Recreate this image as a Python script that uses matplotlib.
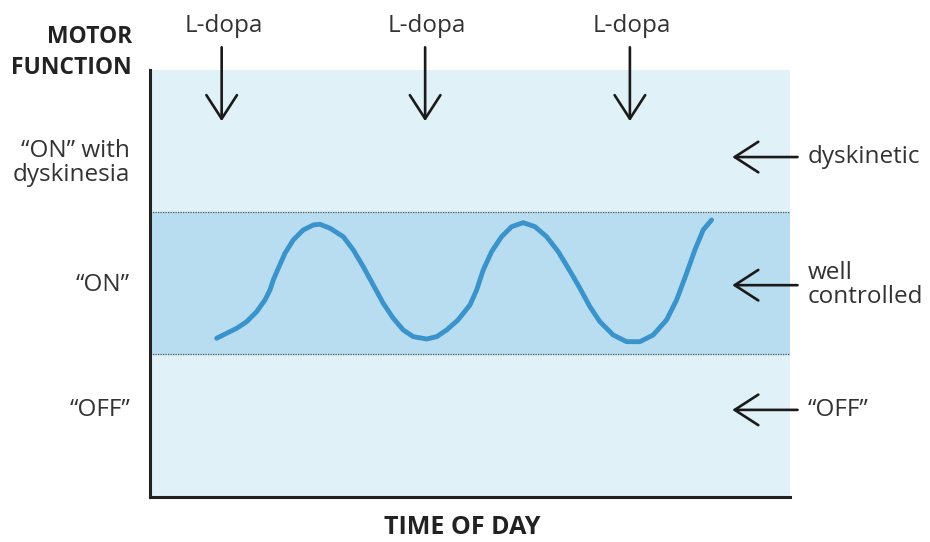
import matplotlib.pyplot as plt

# levodopa response curve (time 0-100, motor function 0-100)
time_pts = [10.42, 11.98, 13.55, 15.11, 16.67, 17.97, 18.75, 19.27, 20.05, 21.09,
            22.39, 23.95, 25.52, 26.56, 28.13, 30.20, 31.77, 33.33, 34.89, 36.45,
            38.02, 39.58, 41.14, 43.23, 44.80, 46.36, 48.13, 50.00, 51.05, 52.08,
            53.39, 54.95, 56.52, 58.33, 60.16, 61.98, 63.80, 65.63, 67.19, 68.75,
            70.31, 72.39, 74.48, 76.56, 78.64, 80.73, 82.30, 83.86, 85.16, 86.45,
            87.77]
motor_pts = [37.17, 38.34, 39.51, 41.05, 43.40, 46.14, 48.48, 50.82, 53.56, 57.07,
             60.19, 62.53, 63.70, 63.86, 62.93, 60.96, 57.85, 53.93, 49.65, 45.36,
             41.85, 39.11, 37.54, 37.00, 37.54, 39.11, 41.45, 44.96, 48.48, 53.16,
             57.45, 60.96, 63.30, 64.24, 63.30, 60.96, 57.45, 52.93, 48.88, 44.57,
             41.05, 37.94, 36.37, 36.37, 37.94, 41.45, 46.14, 52.39, 57.85, 62.53,
             64.87]

dose_times = [11.2, 43.0, 75.0]
dose_label = "L-dopa"

band_low = 33.5
band_high = 66.7

zone_y = [78.2, 49.6, 20.4]
zone_left = ["\u201cON\u201d with\ndyskinesia", "\u201cON\u201d", "\u201cOFF\u201d"]
zone_right = ["dyskinetic", "well\ncontrolled", "\u201cOFF\u201d"]
arrow_y = [79.6, 49.6, 20.4]

plt.rcParams['font.family'] = ['Open Sans', 'DejaVu Sans']

fig = plt.figure(figsize=(9.3, 5.42), dpi=100)
ax = fig.add_axes([0.1613, 0.083, 0.688, 0.788])
ax.set_xlim(0, 100)
ax.set_ylim(0, 100)

# background zones
ax.axhspan(0, 100, color='#e1f1f8', zorder=0)
ax.axhspan(band_low, band_high, color='#b9ddf0', zorder=1)
for yy in [band_low, band_high]:
    ax.axhline(yy, color='#555555', linestyle=(0, (1, 1)), linewidth=0.9, zorder=2)

ax.plot(time_pts, motor_pts, color='#3b93cb', linewidth=3.5,
        solid_capstyle='round', solid_joinstyle='round', zorder=3)

# axes look: only left + bottom
for s in ['top', 'right']:
    ax.spines[s].set_visible(False)
for s in ['left', 'bottom']:
    ax.spines[s].set_linewidth(2.2)
    ax.spines[s].set_color('#222222')
ax.set_xticks([])
ax.set_yticks([])

arrow_style = dict(arrowstyle='->, head_length=0.85, head_width=0.55',
                   color='#1a1a1a', lw=1.9, mutation_scale=20,
                   shrinkA=0, shrinkB=0)

# L-dopa doses
for t in dose_times:
    ax.annotate('', xy=(t, 88.0), xytext=(t, 105.3),
                arrowprops=arrow_style, annotation_clip=False)
    ax.text(t + 0.3, 110.2, dose_label, ha='center', va='center',
            fontsize=17.5, color='#333333', clip_on=False)

# zone labels on both sides
for yy, ay, ltxt, rtxt in zip(zone_y, arrow_y, zone_left, zone_right):
    ax.text(-3.1, yy, ltxt, ha='right', va='center', fontsize=17.5,
            color='#333333', linespacing=1.02, clip_on=False)
    ax.annotate('', xy=(91.0, ay), xytext=(101.2, ay),
                arrowprops=arrow_style, annotation_clip=False)
    ax.text(102.8, ay, rtxt, ha='left', va='center', fontsize=17.5,
            color='#333333', linespacing=1.02, clip_on=False)

fig.text(0.142, 0.903, "MOTOR\nFUNCTION", ha='right', va='center',
         fontsize=16.5, fontweight='bold', color='#222222', linespacing=1.35)
fig.text(0.497, 0.026, "TIME OF DAY", ha='center', va='center',
         fontsize=18, fontweight='bold', color='#222222')

fig.savefig('out.png', dpi=100)
